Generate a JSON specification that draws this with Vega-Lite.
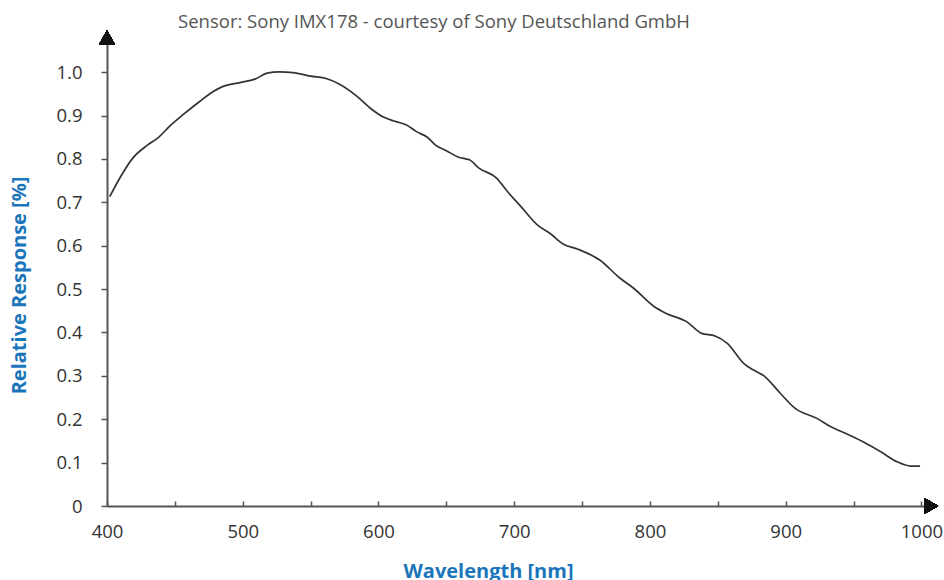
{
  "$schema": "https://vega.github.io/schema/vega-lite/v6.json",
  "width": 828,
  "height": 475,
  "autosize": "none",
  "padding": {"left": 107, "top": 31, "right": 9, "bottom": 74},
  "background": "white",
  "config": {"view": {"stroke": null}, "font": "Open Sans"},
  "title": {
    "text": "Sensor: Sony IMX178 - courtesy of Sony Deutschland GmbH",
    "font": "Open Sans",
    "fontSize": 18.5,
    "fontWeight": "normal",
    "color": "#555555",
    "anchor": "middle",
    "dx": -87,
    "dy": 20,
    "baseline": "alphabetic",
    "offset": 4
  },
  "data": {
    "values": [
      {"wavelength": 402, "response": 0.713},
      {"wavelength": 410, "response": 0.759},
      {"wavelength": 419, "response": 0.802},
      {"wavelength": 429, "response": 0.830},
      {"wavelength": 438, "response": 0.850},
      {"wavelength": 446, "response": 0.875},
      {"wavelength": 456, "response": 0.902},
      {"wavelength": 468, "response": 0.932},
      {"wavelength": 478, "response": 0.955},
      {"wavelength": 486, "response": 0.968},
      {"wavelength": 498, "response": 0.976},
      {"wavelength": 509, "response": 0.984},
      {"wavelength": 518, "response": 0.998},
      {"wavelength": 527, "response": 1.001},
      {"wavelength": 537, "response": 0.999},
      {"wavelength": 550, "response": 0.991},
      {"wavelength": 562, "response": 0.985},
      {"wavelength": 571, "response": 0.973},
      {"wavelength": 584, "response": 0.945},
      {"wavelength": 594, "response": 0.917},
      {"wavelength": 604, "response": 0.896},
      {"wavelength": 613, "response": 0.886},
      {"wavelength": 621, "response": 0.878},
      {"wavelength": 628, "response": 0.863},
      {"wavelength": 636, "response": 0.850},
      {"wavelength": 642, "response": 0.832},
      {"wavelength": 650, "response": 0.819},
      {"wavelength": 659, "response": 0.804},
      {"wavelength": 667, "response": 0.798},
      {"wavelength": 674, "response": 0.779},
      {"wavelength": 687, "response": 0.756},
      {"wavelength": 695, "response": 0.725},
      {"wavelength": 705, "response": 0.690},
      {"wavelength": 717, "response": 0.648},
      {"wavelength": 727, "response": 0.627},
      {"wavelength": 736, "response": 0.604},
      {"wavelength": 747, "response": 0.592},
      {"wavelength": 763, "response": 0.567},
      {"wavelength": 778, "response": 0.525},
      {"wavelength": 788, "response": 0.502},
      {"wavelength": 803, "response": 0.460},
      {"wavelength": 812, "response": 0.444},
      {"wavelength": 827, "response": 0.425},
      {"wavelength": 838, "response": 0.398},
      {"wavelength": 848, "response": 0.392},
      {"wavelength": 857, "response": 0.375},
      {"wavelength": 869, "response": 0.329},
      {"wavelength": 876, "response": 0.314},
      {"wavelength": 884, "response": 0.300},
      {"wavelength": 896, "response": 0.260},
      {"wavelength": 907, "response": 0.225},
      {"wavelength": 923, "response": 0.202},
      {"wavelength": 933, "response": 0.183},
      {"wavelength": 943, "response": 0.169},
      {"wavelength": 957, "response": 0.148},
      {"wavelength": 970, "response": 0.125},
      {"wavelength": 982, "response": 0.102},
      {"wavelength": 992, "response": 0.092},
      {"wavelength": 999, "response": 0.092}
    ]
  },
  "layer": [
    {
      "mark": {"type": "line", "color": "#333333", "strokeWidth": 1.7, "interpolate": "monotone"},
      "encoding": {
        "x": {
          "field": "wavelength",
          "type": "quantitative",
          "scale": {"domain": [400, 1010], "nice": false, "zero": false},
          "axis": {
            "title": "Wavelength [nm]",
            "titleFont": "Open Sans",
            "titleFontSize": 20,
            "titleFontWeight": "bold",
            "titleColor": "#1b75bb",
            "titleX": 381,
            "titleY": 71,
            "titleAlign": "center",
            "titleBaseline": "alphabetic",
            "values": [400, 450, 500, 550, 600, 650, 700, 750, 800, 850, 900, 950, 1000],
            "format": "d",
            "labelExpr": "datum.value % 100 == 0 ? datum.label : ''",
            "labelFont": "Open Sans",
            "labelFontSize": 18.5,
            "labelColor": "#333333",
            "labelFlush": false,
            "labelOverlap": false,
            "labelBaseline": "alphabetic",
            "labelPadding": 36,
            "tickSize": -5,
            "tickColor": "#555555",
            "tickWidth": 1.5,
            "domainColor": "#555555",
            "domainWidth": 2,
            "grid": false
          }
        },
        "y": {
          "field": "response",
          "type": "quantitative",
          "scale": {"domain": [0, 1.095], "nice": false},
          "axis": {
            "title": "Relative Response [%]",
            "titleFont": "Open Sans",
            "titleFontSize": 20,
            "titleFontWeight": "bold",
            "titleColor": "#1b75bb",
            "titleAngle": -90,
            "titleX": -88,
            "titleY": 254,
            "titleAlign": "center",
            "titleBaseline": "middle",
            "values": [0, 0.1, 0.2, 0.3, 0.4, 0.5, 0.6, 0.7, 0.8, 0.9, 1.0],
            "labelExpr": "datum.value == 0 ? '0' : format(datum.value, '.1f')",
            "labelFont": "Open Sans",
            "labelFontSize": 18.5,
            "labelColor": "#333333",
            "labelPadding": 19,
            "labelBaseline": "middle",
            "tickSize": 6,
            "tickColor": "#555555",
            "tickWidth": 1.5,
            "domainColor": "#555555",
            "domainWidth": 2,
            "grid": false
          }
        }
      }
    },
    {
      "mark": {"type": "point", "shape": "triangle-right", "filled": true, "color": "#111111", "size": 256, "opacity": 1},
      "encoding": {
        "x": {"datum": 1007.2, "type": "quantitative"},
        "y": {"datum": 0, "type": "quantitative"}
      }
    },
    {
      "mark": {"type": "point", "shape": "triangle-up", "filled": true, "color": "#111111", "size": 256, "opacity": 1},
      "encoding": {
        "x": {"datum": 400, "type": "quantitative"},
        "y": {"datum": 1.08, "type": "quantitative"}
      }
    }
  ]
}
